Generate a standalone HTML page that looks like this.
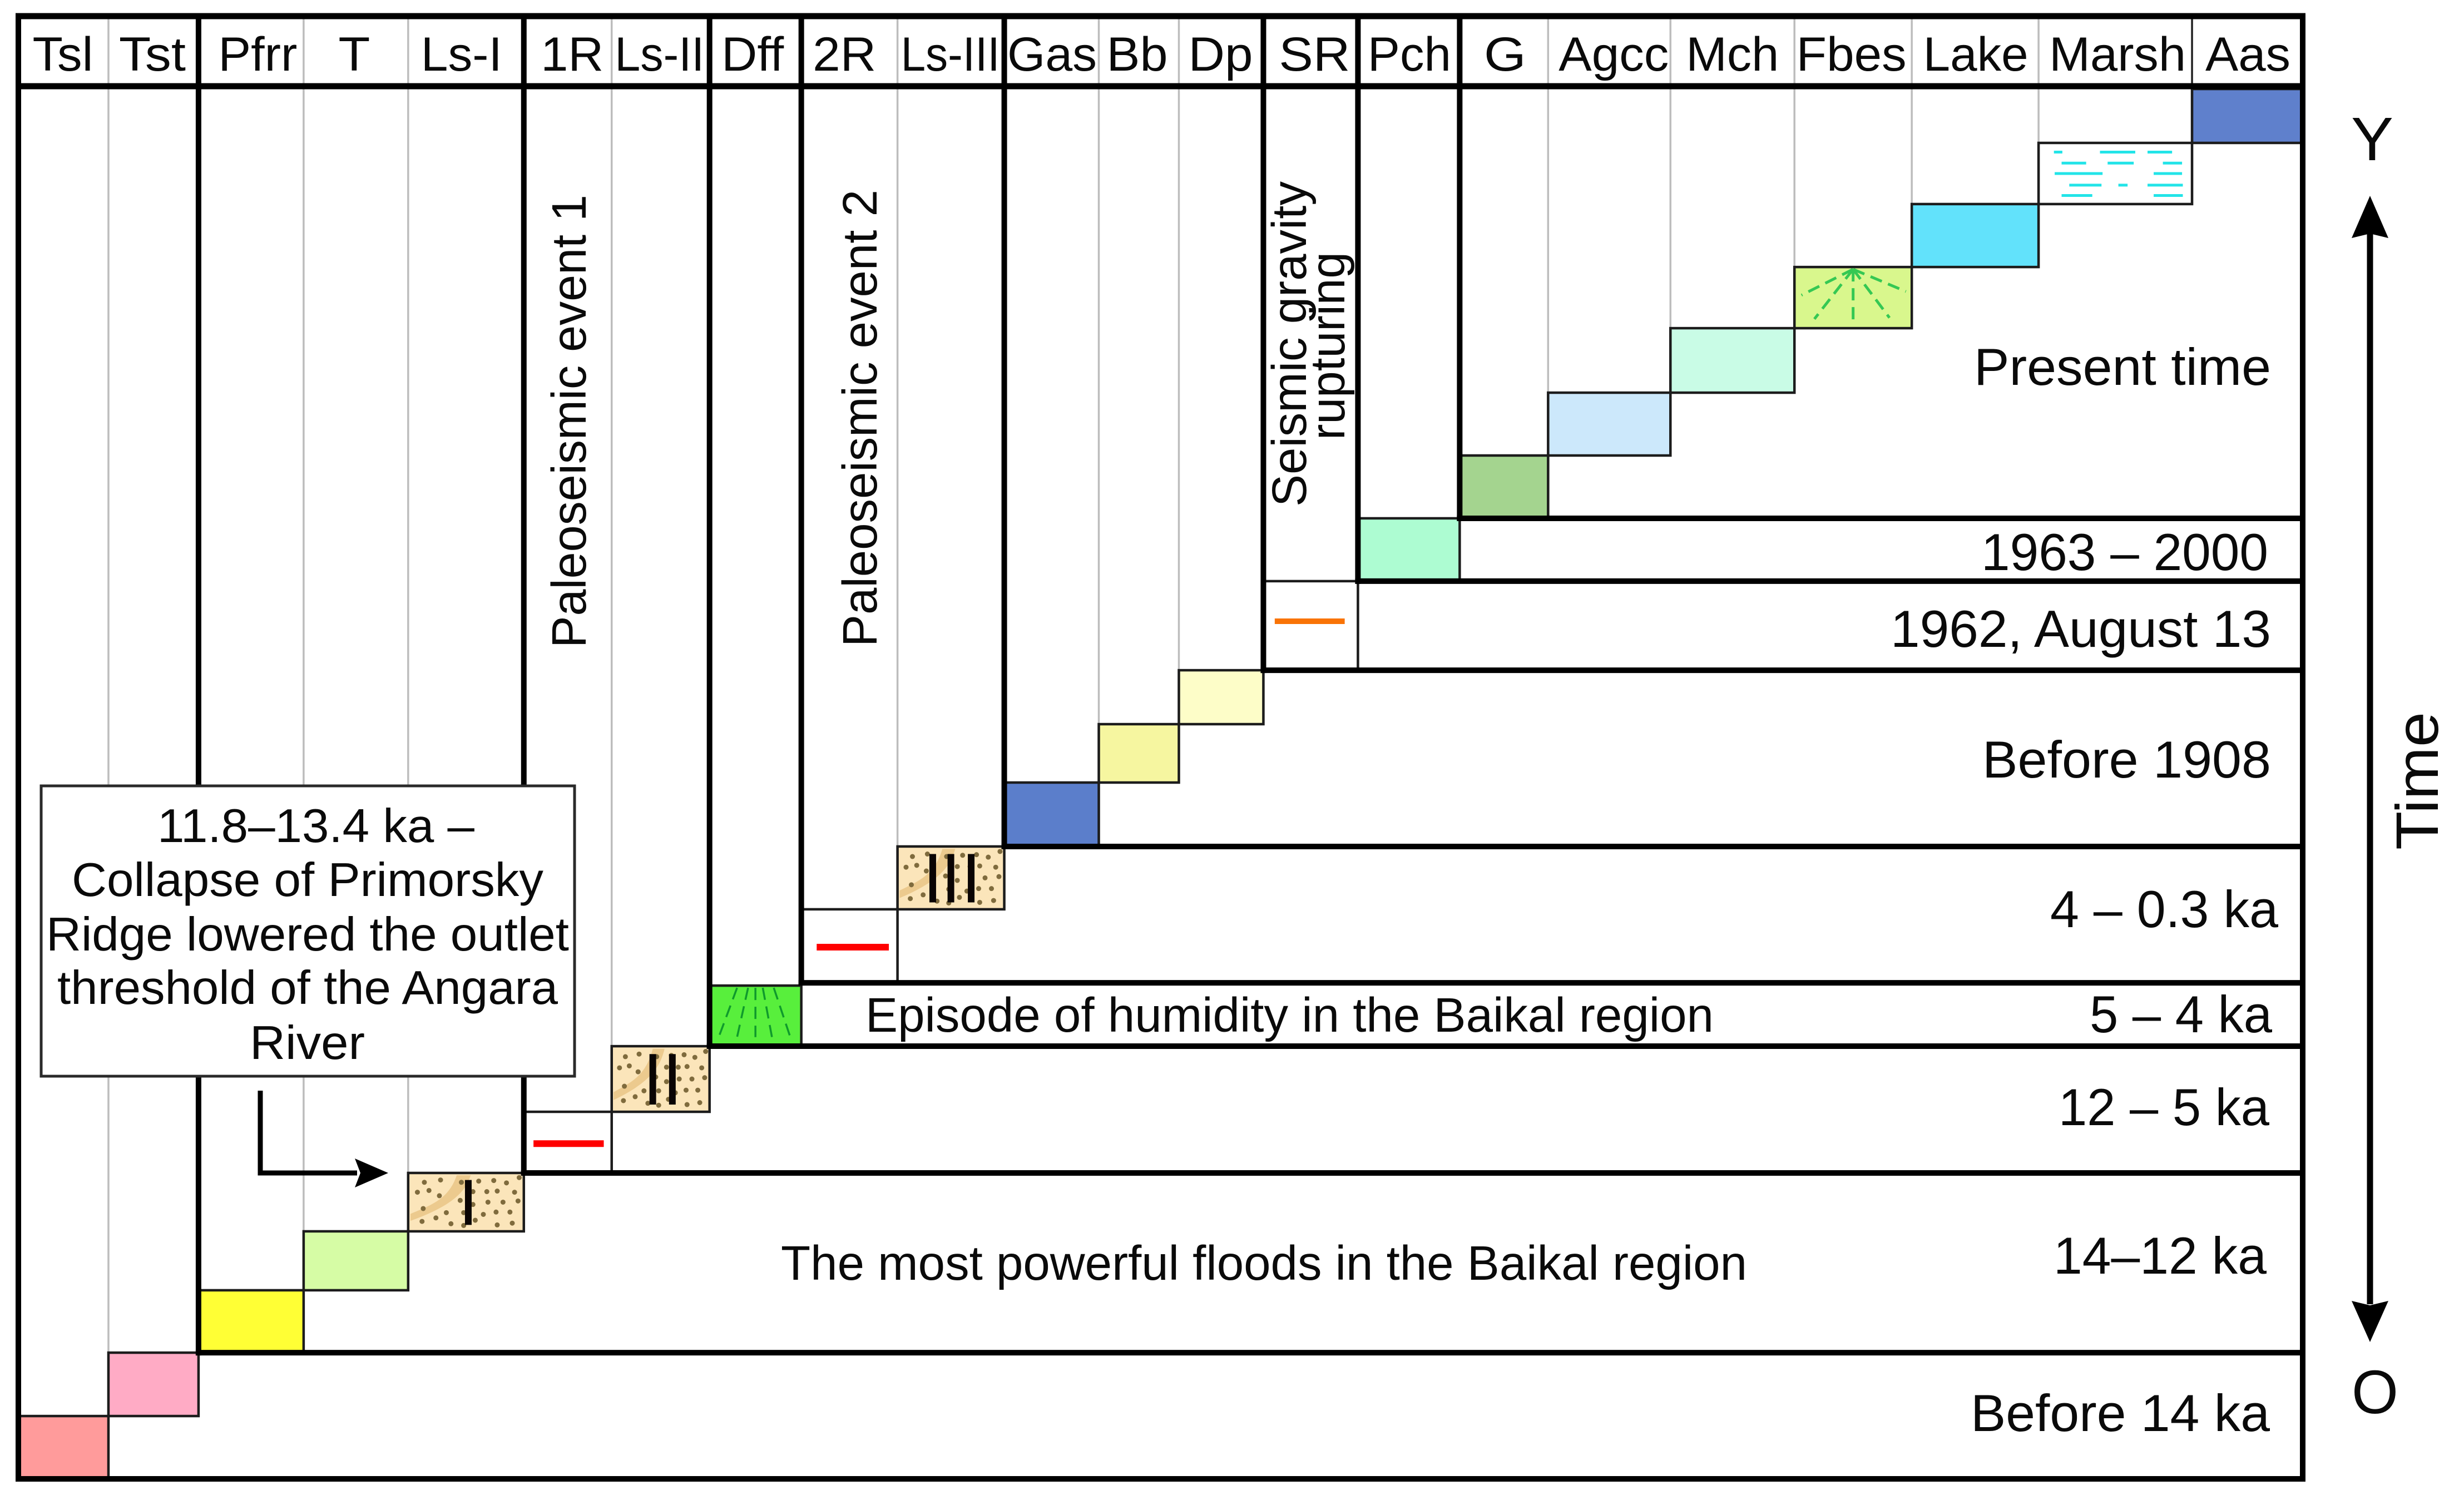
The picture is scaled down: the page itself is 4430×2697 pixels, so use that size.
<!DOCTYPE html>
<html lang="en">
<head>
<meta charset="utf-8">
<title>Stratigraphic event chart</title>
<style>
html,body{margin:0;padding:0;background:#fff;}
svg{display:block;}
text{font-family:"Liberation Sans",Arial,sans-serif;fill:#0a0a0a;}
</style>
</head>
<body>
<svg id="chart" xmlns="http://www.w3.org/2000/svg" width="4430" height="2697" viewBox="0 0 4430 2697">
  <rect x="0" y="0" width="4430" height="2697" fill="#ffffff"/>
  <g id="gridLayer"></g>
  <g id="tileLayer"></g>
  <g id="frameLayer"></g>
  <g id="headerLayer"></g>

  <g font-size="94">
    <text x="3549" y="692" textLength="534" lengthAdjust="spacingAndGlyphs">Present time</text>
    <text x="3562" y="1025" textLength="516" lengthAdjust="spacingAndGlyphs">1963 – 2000</text>
    <text x="3399" y="1163" textLength="684" lengthAdjust="spacingAndGlyphs">1962, August 13</text>
    <text x="3564" y="1398" textLength="519" lengthAdjust="spacingAndGlyphs">Before 1908</text>
    <text x="3686" y="1667" textLength="410" lengthAdjust="spacingAndGlyphs">4 – 0.3 ka</text>
    <text x="3757" y="1856" textLength="328" lengthAdjust="spacingAndGlyphs">5 – 4 ka</text>
    <text x="3701" y="2023" textLength="379" lengthAdjust="spacingAndGlyphs">12 – 5 ka</text>
    <text x="3692" y="2290" textLength="383" lengthAdjust="spacingAndGlyphs">14–12 ka</text>
    <text x="3543" y="2573" textLength="538" lengthAdjust="spacingAndGlyphs">Before 14 ka</text>
  </g>

  <g font-size="87">
    <text x="1556" y="1855" textLength="1525" lengthAdjust="spacingAndGlyphs">Episode of humidity in the Baikal region</text>
    <text x="1404" y="2301" textLength="1737" lengthAdjust="spacingAndGlyphs">The most powerful floods in the Baikal region</text>
    <text transform="translate(1053,1165) rotate(-90)" textLength="815" lengthAdjust="spacingAndGlyphs">Paleoseismic event 1</text>
    <text transform="translate(1576,1163) rotate(-90)" textLength="822" lengthAdjust="spacingAndGlyphs">Paleoseismic event 2</text>
    <text transform="translate(2348,911) rotate(-90)" textLength="585" lengthAdjust="spacingAndGlyphs">Seismic gravity</text>
    <text transform="translate(2417,791) rotate(-90)" textLength="338" lengthAdjust="spacingAndGlyphs">rupturing</text>
  </g>

  <g>
    <rect x="74" y="1413" width="959" height="522" fill="#ffffff" stroke="#2a2a2a" stroke-width="5"/>
    <g font-size="85">
      <text x="283" y="1514" textLength="570" lengthAdjust="spacingAndGlyphs">11.8–13.4 ka –</text>
      <text x="129" y="1611" textLength="848" lengthAdjust="spacingAndGlyphs">Collapse of Primorsky</text>
      <text x="83" y="1709" textLength="940" lengthAdjust="spacingAndGlyphs">Ridge lowered the outlet</text>
      <text x="103" y="1805" textLength="900" lengthAdjust="spacingAndGlyphs">threshold of the Angara</text>
      <text x="449" y="1904" textLength="207" lengthAdjust="spacingAndGlyphs">River</text>
    </g>
    <polyline points="468,1961 468,2109 642,2109" fill="none" stroke="#000" stroke-width="9"/>
    <polygon points="698,2109 638,2083 648,2109 638,2135" fill="#000"/>
  </g>

  <g>
    <line x1="4261" y1="420" x2="4261" y2="2345" stroke="#000" stroke-width="11"/>
    <polygon points="4261,352 4294,428 4261,420 4228,428" fill="#000"/>
    <polygon points="4261,2413 4294,2339 4261,2347 4228,2339" fill="#000"/>
    <text x="4227" y="288" font-size="110" textLength="76" lengthAdjust="spacingAndGlyphs">Y</text>
    <text x="4228" y="2541" font-size="110" textLength="84" lengthAdjust="spacingAndGlyphs">O</text>
    <text transform="translate(4383,1528) rotate(-90)" font-size="108" textLength="248" lengthAdjust="spacingAndGlyphs">Time</text>
  </g>
</svg>

<script>
/* ---- chart data ---- */
// Units, oldest to youngest, one per column.
const columnNames = ["Tsl","Tst","Pfrr","T","Ls-I","1R","Ls-II","Dff","2R","Ls-III","Gas","Bb","Dp","SR","Pch","G","Agcc","Mch","Fbes","Lake","Marsh","Aas"];
// Relative column widths (table is 4108 parts wide).
const columnSpans = [162,162,189,188,208,158,176,165,173,192,170,144,152,170,183,159,220,223,211,228,276,199];
// Relative time of unit boundaries (0 = oldest, 1000 = present), one more than the units.
const stageBoundaries = [0,45.2,90.8,135.7,178.1,220.1,264.1,311.3,356.9,409.8,455.0,501.0,543.0,581.8,645.9,691.1,736.3,781.5,827.9,871.9,917.2,961.2,1000];
// Units that open a new period group (a heavy rule is drawn at their left and bottom).
const groupStarts = ["Tsl","Pfrr","1R","Dff","2R","Gas","SR","Pch","G"];

/* ---- styling, kept apart from the data ---- */
const unitFill = {Tsl:"#ff9b9b",Tst:"#ffabc5",Pfrr:"#ffff35",T:"#d6fca5","Ls-I":"#fbe5ba","1R":"#ffffff","Ls-II":"#fbe5ba",Dff:"#58ef3c","2R":"#ffffff","Ls-III":"#fbe5ba",Gas:"#5b7ecb",Bb:"#f6f6a0",Dp:"#fdfdc8",SR:"#ffffff",Pch:"#adfcd2",G:"#a4d48f",Agcc:"#cce8fb",Mch:"#c9fce6",Fbes:"#d9f78d",Lake:"#62e2fb",Marsh:"#ffffff",Aas:"#5f80cc"};
const headerFit = {Tsl:[109,-1],Tst:[120,-2],Pfrr:[142,12],T:[57,-3],"Ls-I":[146,-8],"1R":[113,8],"Ls-II":[161,-2],Dff:[112,-5],"2R":[114,-9],"Ls-III":[178,-1],Gas:[161,1],Bb:[110,-3],Dp:[116,-1],SR:[128,7],Pch:[150,1],G:[76,2],Agcc:[198,8],Mch:[167,0],Fbes:[198,-3],Lake:[189,1],Marsh:[246,4],Aas:[153,1]};
const tileTopInset = {Dff:5};
const eventDash = {"1R":[0.11,0.91,0.52,"#ff0000",12],"2R":[0.16,0.91,0.515,"#ff0000",12],SR:[0.12,0.86,0.45,"#f97306",10]};
const faultBars = {"Ls-I":[0.52],"Ls-II":[0.42,0.62],"Ls-III":[0.33,0.5,0.69]};
const sandDots = [[14,16],[28,12],[46,16],[61,14],[74,13],[85,17],[96,8],[8,33],[18,30],[27,39],[56,32],[68,32],[77,31],[92,33],[45,47],[56,54],[69,50],[82,50],[95,48],[13,61],[33,68],[48,68],[65,71],[76,67],[88,67],[12,83],[24,77],[37,87],[48,90],[58,81],[77,89],[90,86]];
const fanRays = {Dff:[[-0.40,0.85,"#0f9a2c",-0.2],[-0.2,0.85,"#0f9a2c",-0.08],[0,0.85,"#0f9a2c",0],[0.18,0.85,"#0f9a2c",0.08],[0.38,0.85,"#0f9a2c",0.2]],Fbes:[[-0.44,0.46,"#35c853",0],[-0.33,0.85,"#35c853",0],[0,0.92,"#35c853",0],[0.31,0.83,"#35c853",0],[0.45,0.40,"#35c853",0]]};
const marshDashes = [[0.15,0.10,0.155],[0.15,0.40,0.63],[0.15,0.71,0.87],[0.33,0.15,0.31],[0.33,0.45,0.62],[0.33,0.81,0.935],[0.5,0.105,0.417],[0.5,0.75,0.935],[0.69,0.2,0.41],[0.69,0.52,0.58],[0.69,0.71,0.94],[0.86,0.15,0.35],[0.86,0.75,0.94]];

/* ---- axis functions ---- */
const plotLeft = 33, plotRight = 4140, plotBottom = 2659, plotTop = 160, headerTop = 29;
const totalSpan = columnSpans.reduce(function(a,b){return a+b;},0);
function xEdge(i){
  let sum = 0;
  for(let k=0;k<i;k++){sum += columnSpans[k];}
  return plotLeft + sum/totalSpan*(plotRight-plotLeft);
}
function yTime(t){
  return plotBottom - t/1000*(plotBottom-plotTop);
}

const NS = "http://www.w3.org/2000/svg";
function make(parent,tag,attrs){
  const el = document.createElementNS(NS,tag);
  for(const k in attrs){el.setAttribute(k,attrs[k]);}
  parent.appendChild(el);
  return el;
}
const gridLayer = document.getElementById("gridLayer");
const tileLayer = document.getElementById("tileLayer");
const frameLayer = document.getElementById("frameLayer");
const headerLayer = document.getElementById("headerLayer");
function slug(s){return s.toLowerCase().replace(/[^a-z0-9]+/g,"-");}

columnNames.forEach(function(name,i){
  const x0 = xEdge(i), x1 = xEdge(i+1);
  const yBottom = yTime(stageBoundaries[i]), yTop = yTime(stageBoundaries[i+1]) + (tileTopInset[name]||0);
  const w = x1-x0, h = yBottom-yTop;
  const isGroup = groupStarts.indexOf(name) >= 0;

  /* light separator at the column's left edge, header to tile top */
  if(!isGroup){
    const sep = make(gridLayer,"line",{x1:x0,y1:headerTop,x2:x0,y2:yTop,stroke:name==="Aas"?"#222222":"#bdbdbd","stroke-width":3.5});
    
    
  }

  /* tile */
  const tile = make(tileLayer,"rect",{x:x0,y:yTop,width:w,height:h,fill:unitFill[name],stroke:"#1c1c1c","stroke-width":4.5});
  
  

  /* event dash for rupture units */
  if(eventDash[name]){
    const d = eventDash[name];
    const dash = make(tileLayer,"line",{x1:x0+d[0]*w,x2:x0+d[1]*w,y1:yTop+d[2]*h,y2:yTop+d[2]*h,stroke:d[3],"stroke-width":d[4]});
    
    
  }

  /* sandy texture with fault bars */
  if(faultBars[name]){
    const band = make(tileLayer,"path",{fill:"#ecca8e",d:"M"+(x0+0.02*w)+" "+(yTop+0.70*h)+"C"+(x0+0.2*w)+" "+(yTop+0.55*h)+" "+(x0+0.35*w)+" "+(yTop+0.45*h)+" "+(x0+0.42*w)+" "+(yTop+0.04*h)+"L"+(x0+0.54*w)+" "+(yTop+0.04*h)+"C"+(x0+0.5*w)+" "+(yTop+0.3*h)+" "+(x0+0.4*w)+" "+(yTop+0.55*h)+" "+(x0+0.02*w)+" "+(yTop+0.82*h)+"Z"});
    
    
    sandDots.forEach(function(p){
      const dot = make(tileLayer,"circle",{cx:x0+p[0]/100*w,cy:yTop+p[1]/100*h,r:4.5,fill:"#7f6b3d"});
      
      
    });
    faultBars[name].forEach(function(f){
      const bar = make(tileLayer,"line",{x1:x0+f*w,x2:x0+f*w,y1:yTop+0.12*h,y2:yTop+0.89*h,stroke:"#0a0404","stroke-width":12});
      
      
    });
  }

  /* radiating fan */
  if(fanRays[name]){
    fanRays[name].forEach(function(r){
      const ray = make(tileLayer,"line",{x1:x0+w/2+r[3]*w,y1:yTop+4,x2:x0+w/2+r[0]*w,y2:yTop+r[1]*h,stroke:r[2],"stroke-width":name==="Dff"?3.5:5,"stroke-dasharray":"22 12"});
      
      
    });
  }

  /* marsh dashes */
  if(name==="Marsh"){
    marshDashes.forEach(function(m){
      const md = make(tileLayer,"line",{x1:x0+m[1]*w,x2:x0+m[2]*w,y1:yTop+m[0]*h,y2:yTop+m[0]*h,stroke:"#22e4e8","stroke-width":5});
      
      
    });
  }

  /* heavy period rules */
  if(isGroup){
    const v = make(frameLayer,"line",{x1:x0,x2:x0,y1:headerTop,y2:yBottom+5,stroke:"#000","stroke-width":10});
    
    
    const hr = make(frameLayer,"line",{x1:x0-5,x2:plotRight,y1:yBottom,y2:yBottom,stroke:"#000","stroke-width":10});
    
    
  }

  /* header label */
  const fit = headerFit[name];
  const label = make(headerLayer,"text",{x:(x0+x1)/2+fit[1],y:127,"font-size":86,"text-anchor":"middle",textLength:fit[0],lengthAdjust:"spacingAndGlyphs"});
  label.textContent = name;
  
  
});

/* outer frame */
const topRule = make(frameLayer,"line",{x1:plotLeft-5,x2:plotRight+5,y1:29,y2:29,stroke:"#000","stroke-width":11});


const headerRule = make(frameLayer,"line",{x1:plotLeft-5,x2:plotRight+5,y1:155,y2:155,stroke:"#000","stroke-width":11});


const rightRule = make(frameLayer,"line",{x1:plotRight,x2:plotRight,y1:24,y2:plotBottom+5,stroke:"#000","stroke-width":10});


</script>
</body>
</html>
